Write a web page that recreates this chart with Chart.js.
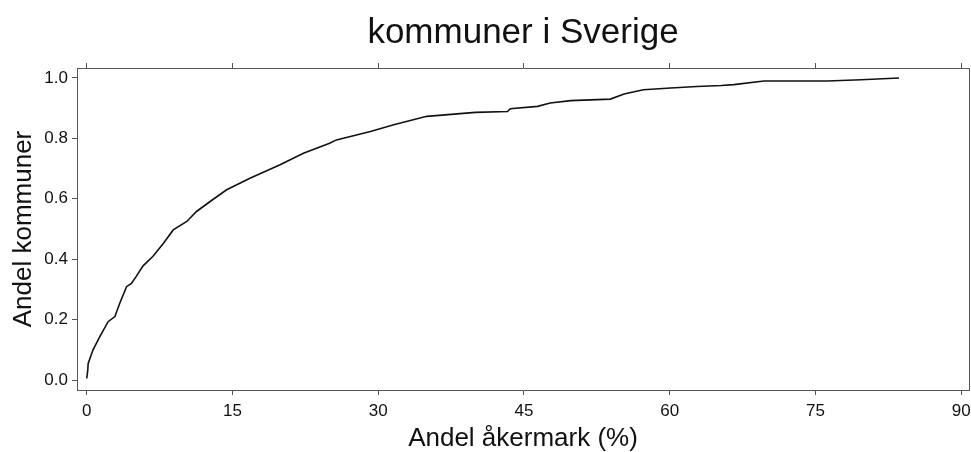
<!DOCTYPE html>
<html>
<head>
<meta charset="utf-8">
<script src="https://cdn.jsdelivr.net/npm/chart.js@4/dist/chart.umd.min.js"></script>
<style>
  html, body { margin: 0; padding: 0; background: #fff; }
  #wrap { width: 971px; height: 452px; }
</style>
</head>
<body>
<div id="wrap"><canvas id="c" width="971" height="452"></canvas></div>
<script>
// Empirical cumulative distribution: share of municipalities (y) vs. share of arable land (x, %)
const arableShare = [0, 0.1, 0.15, 0.65, 1.35, 2.2, 2.9, 3.4, 4.1, 4.6, 5.1, 5.8, 6.8, 7.9, 8.9, 10.3, 11.3, 12.7, 14.4, 16.8, 19.9, 22.3, 25.0, 25.7, 29.2, 31.6, 35.0, 40.0, 43.3, 43.6, 46.4, 47.7, 49.8, 53.9, 55.3, 57.3, 60.1, 62.8, 65.3, 66.6, 69.7, 76.2, 79.7, 83.6];
const cumulativeShare = [0.005, 0.03, 0.055, 0.10, 0.144, 0.193, 0.21, 0.254, 0.309, 0.32, 0.343, 0.378, 0.409, 0.453, 0.497, 0.525, 0.558, 0.591, 0.63, 0.668, 0.713, 0.751, 0.784, 0.795, 0.823, 0.845, 0.873, 0.886, 0.889, 0.898, 0.906, 0.917, 0.925, 0.930, 0.947, 0.961, 0.967, 0.972, 0.975, 0.978, 0.99, 0.99, 0.994, 1.0];
const xTicks = [0, 15, 30, 45, 60, 75, 90];
const yTicks = [0, 0.2, 0.4, 0.6, 0.8, 1.0];

const FONT = "'Liberation Sans', Arial, Helvetica, sans-serif";
const AXIS = '#555';
const TEXT = '#111';

const points = arableShare.map((x, i) => ({ x: x, y: cumulativeShare[i] }));

const fixedTicks = (vals) => (scale) => { scale.ticks = vals.map(v => ({ value: v })); };
// keep the plot frame independent of tick-label overhang
const fitX = (h) => (s) => { s.height = h; s.paddingLeft = 0; s.paddingRight = 0; };

new Chart(document.getElementById('c'), {
  type: 'line',
  data: {
    datasets: [{
      data: points,
      borderColor: '#111',
      borderWidth: 1.6,
      pointRadius: 0,
      tension: 0,
      fill: false
    }]
  },
  options: {
    responsive: false,
    animation: false,
    layout: { padding: { left: 0, right: 2, top: 0, bottom: 0 } },
    plugins: {
      legend: { display: false },
      tooltip: { enabled: false },
      title: {
        display: true,
        fullSize: false,
        text: 'kommuner i Sverige',
        color: TEXT,
        font: { family: FONT, size: 35, weight: 'normal', lineHeight: 1.2 },
        padding: { top: 12, bottom: 0 }
      }
    },
    scales: {
      x: {
        type: 'linear',
        position: 'bottom',
        min: -1.0,
        max: 90.8,
        afterBuildTicks: fixedTicks(xTicks),
        afterFit: fitX(62),
        grid: { drawOnChartArea: false, drawTicks: true, tickLength: 5, color: AXIS, tickColor: AXIS },
        border: { display: true, color: AXIS, width: 1 },
        ticks: { color: TEXT, font: { family: FONT, size: 17 }, padding: 6, maxRotation: 0 },
        title: {
          display: true,
          text: 'Andel åkermark (%)',
          color: TEXT,
          font: { family: FONT, size: 26, lineHeight: 1 },
          padding: { top: 0, bottom: 0 }
        }
      },
      xTop: {
        type: 'linear',
        position: 'top',
        min: -1.0,
        max: 90.8,
        afterBuildTicks: fixedTicks(xTicks),
        afterFit: fitX(14),
        grid: { drawOnChartArea: false, drawTicks: true, tickLength: 5, color: AXIS, tickColor: AXIS },
        border: { display: true, color: AXIS, width: 1 },
        ticks: { display: false }
      },
      y: {
        type: 'linear',
        position: 'left',
        min: -0.033,
        max: 1.033,
        afterBuildTicks: fixedTicks(yTicks),
        afterFit: (s) => { s.width = 77; s.paddingTop = 0; s.paddingBottom = 0; },
        grid: { drawOnChartArea: false, drawTicks: true, tickLength: 5, color: AXIS, tickColor: AXIS },
        border: { display: true, color: AXIS, width: 1 },
        ticks: {
          color: TEXT,
          font: { family: FONT, size: 17 },
          padding: 4,
          callback: (v) => Number(v).toFixed(1)
        },
        title: {
          display: true,
          text: 'Andel kommuner',
          color: TEXT,
          font: { family: FONT, size: 26, lineHeight: 1 },
          padding: { top: 11, bottom: 0 }
        }
      },
      yRight: {
        type: 'linear',
        position: 'right',
        min: -0.033,
        max: 1.033,
        afterFit: (s) => { s.width = 0; s.paddingTop = 0; s.paddingBottom = 0; },
        grid: { drawOnChartArea: false, drawTicks: false },
        border: { display: true, color: AXIS, width: 1 },
        ticks: { display: false }
      }
    }
  }
});
</script>
</body>
</html>
